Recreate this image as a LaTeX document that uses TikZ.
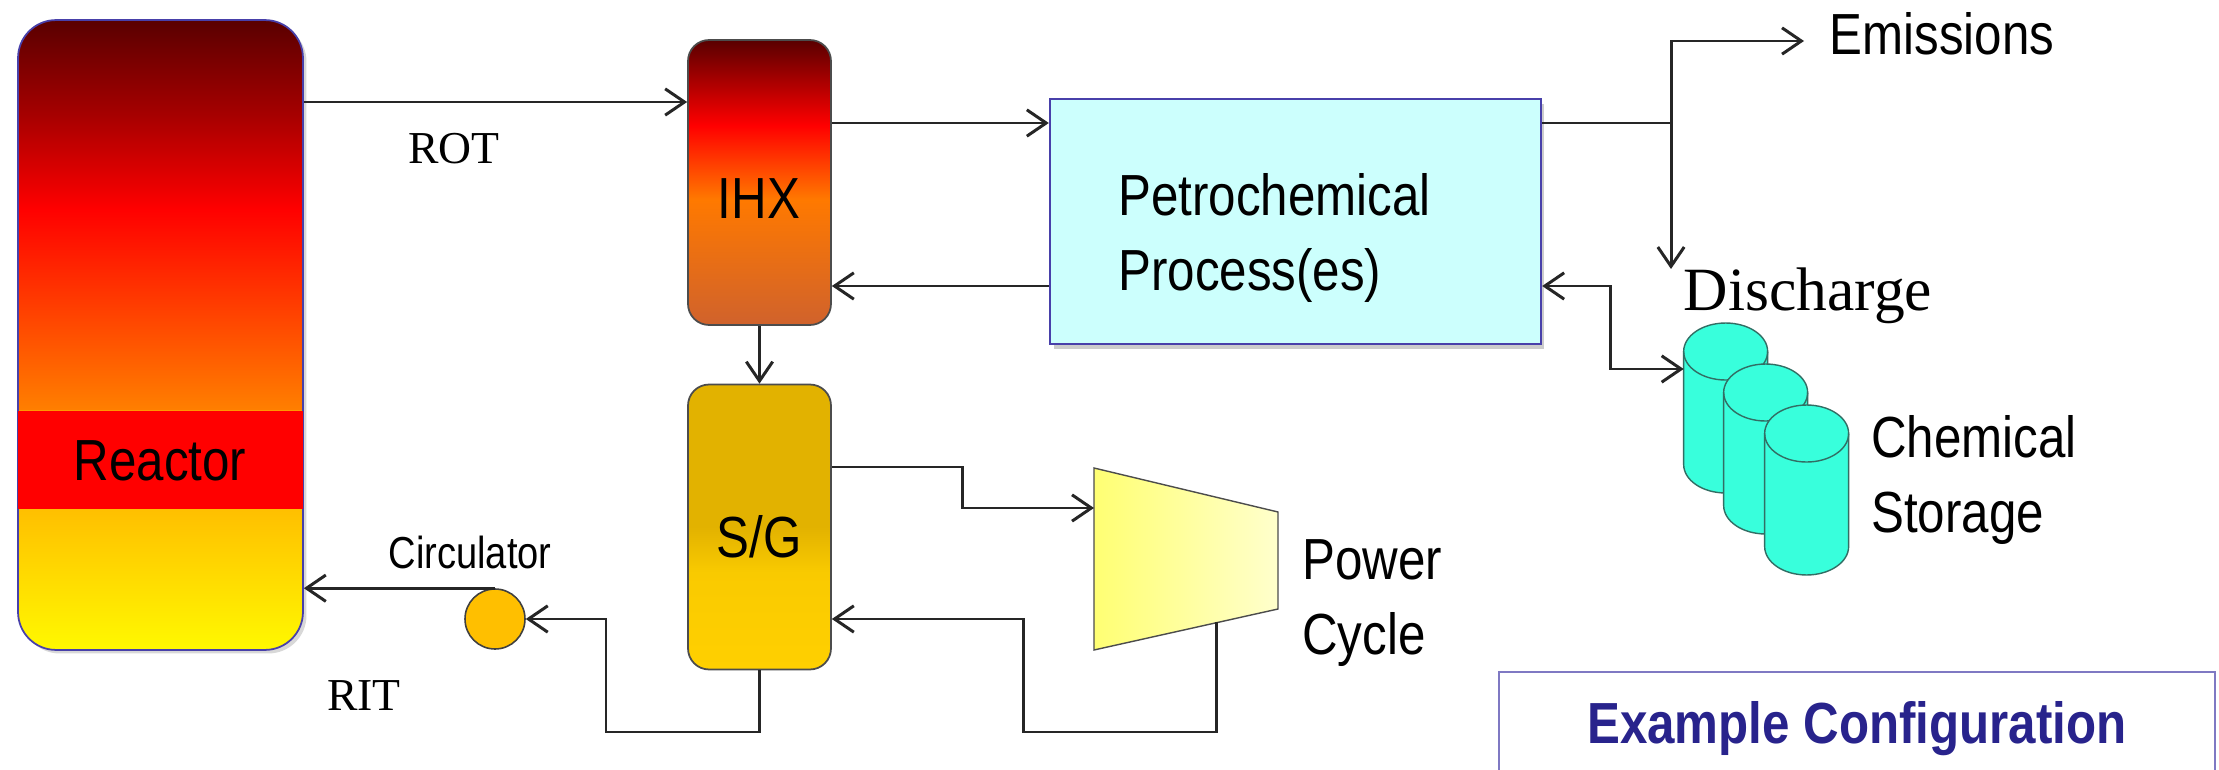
\documentclass[tikz,border=0pt]{standalone}
\usepackage{fontspec}
\setmainfont[FakeStretch = 0.85]{Liberation Sans}
\newfontfamily\labelserif{Liberation Serif}
\usetikzlibrary{arrows.meta, shadows}
\definecolor{edgeblue}{RGB}{72, 64, 170}
\definecolor{processfill}{RGB}{204, 255, 253}
\definecolor{tankfill}{RGB}{56, 255, 220}
\definecolor{tankedge}{RGB}{50, 110, 100}
\definecolor{titleblue}{RGB}{40, 35, 140}
\definecolor{ihxbottom}{RGB}{208, 98, 44}
\pgfdeclareverticalshading{reactorheat}{100bp}{
    color(0bp)=(yellow!95!orange);
    color(25bp)=(yellow!95!orange);
    color(36.2bp)=(orange!50!yellow);
    color(44bp)=(orange!50!yellow);
    color(44.01bp)=(orange);
    color(60bp)=(red);
    color(67.5bp)=(red!65!black);
    color(75bp)=(red!35!black);
    color(100bp)=(red!35!black)
}
\pgfdeclareverticalshading{ihxheat}{100bp}{
    color(0bp)=(ihxbottom);
    color(25bp)=(ihxbottom);
    color(47bp)=(orange!95!red);
    color(60bp)=(red);
    color(75bp)=(red!35!black);
    color(100bp)=(red!35!black)
}
\definecolor{sgtop}{RGB}{226, 178, 0}
\definecolor{sgbottom}{RGB}{255, 208, 0}
\pgfdeclareverticalshading{sgheat}{100bp}{
    color(0bp)=(sgbottom);
    color(25bp)=(sgbottom);
    color(42bp)=(sgtop!20!sgbottom);
    color(50bp)=(sgtop);
    color(75bp)=(sgtop);
    color(100bp)=(sgtop)
}
\newcommand{\tankoutline}[1]{
    \draw[tankline, fill = tankfill]
        ([yshift = 1.13cm]#1.west)
        arc[start angle = 180, end angle = 0, x radius = 0.84cm, y radius = 0.57cm]
        -- ++(0, -2.26cm)
        arc[start angle = 0, end angle = -180, x radius = 0.84cm, y radius = 0.57cm]
        -- cycle;
    \draw[tankline]
        ([yshift = 1.13cm]#1.west)
        arc[start angle = 180, end angle = 360, x radius = 0.84cm, y radius = 0.57cm];
}
\begin{document}
\begin{tikzpicture}[x = 0.02cm, y = -0.02cm,
        flow/.style = {draw = black!85, line width = 1.7pt, >={Straight Barb[length = 11pt, width = 15pt]}},
        bigtext/.style = {font = \fontsize{33}{42.7}\selectfont, align = left, inner sep = 0},
        smalltext/.style = {font = \fontsize{25.5}{30}\selectfont, inner sep = 0},
        serifbig/.style = {font = \fontsize{26}{30}\selectfont\labelserif, inner sep = 0},
        vessel/.style = {rounded corners = 0.76cm, minimum width = 5.7cm, minimum height = 12.6cm, inner sep = 0,
            draw = edgeblue, line width = 1pt, drop shadow = {opacity = 0.3, shadow xshift = 2pt, shadow yshift = -2pt}},
        exchanger/.style = {rounded corners = 0.42cm, minimum width = 2.86cm, minimum height = 5.7cm, inner sep = 0,
            draw = black!70, line width = 1pt},
        tank/.style = {minimum width = 1.68cm, minimum height = 3.4cm, inner sep = 0},
        tankline/.style = {draw = tankedge, line width = 0.8pt}]
    \useasboundingbox (0, 0) rectangle (2219, 770);
    \fill[white] (0, 0) rectangle (2219, 770);
    \node (reactor) at (160.5, 335) [vessel, shading = reactorheat] {};
    \node (band) at (160.5, 460) [fill = red, minimum width = 5.7cm, minimum height = 1.98cm, inner sep = 0] {};
    \node (reactorlabel) at (160, 461) [bigtext] {Reactor};
    \node (ihx) at (759.5, 182.5) [exchanger, shading = ihxheat] {};
    \node (ihxlabel) at (759, 199) [bigtext] {IHX};
    \node (sg) at (759.5, 527) [exchanger, shading = sgheat] {};
    \node (sglabel) at (759, 537) [bigtext] {S/G};
    \node (process) at (1295.5, 221.5) [draw = edgeblue, line width = 1.4pt, fill = processfill, minimum width = 9.82cm, minimum height = 4.9cm, inner sep = 0,
        drop shadow = {opacity = 0.4, shadow xshift = 2pt, shadow yshift = -3pt}] {};
    \node (processlabel) at (1118, 238) [bigtext, anchor = west] {Petrochemical \\ Process(es)};
    \draw[black!70, line width = 0.8pt, left color = yellow!55, right color = yellow!20]
        (1094, 468) coordinate (turbinetop)
        -- (1278, 512)
        -- (1278, 609)
        -- (1094, 650) coordinate (turbinebottom)
        -- cycle;
    \coordinate (turbinein) at (1094, 508);
    \coordinate (turbineout) at (1216, 622);
    \node (powerlabel) at (1302, 603) [bigtext, anchor = west] {Power \\ Cycle};
    \node (circulator) at (495, 619) [circle, draw = black!75, line width = 0.9pt, fill = orange!50!yellow, minimum size = 1.2cm, inner sep = 0] {};
    \node (circulatorlabel) at (470, 552) [smalltext] {Circulator};
    \node (rot) at (454, 149) [serifbig] {ROT};
    \node (rit) at (364, 696) [serifbig] {RIT};
    \node (tankone) at (1726, 408) [tank] {};
    \node (tanktwo) at (1766, 449) [tank] {};
    \node (tankthree) at (1807, 490) [tank] {};
    \tankoutline{tankone}
    \tankoutline{tanktwo}
    \tankoutline{tankthree}
    \node (dischargelabel) at (1808, 296) [font = \fontsize{35}{40}\selectfont\labelserif, inner sep = 0] {Discharge};
    \node (storagelabel) at (1871, 480) [bigtext, anchor = west] {Chemical \\ Storage};
    \node (emissions) at (1942, 34) [bigtext] {Emissions};
    \node (configbox) at (1857, 729) [draw = edgeblue!70, line width = 1pt, minimum width = 14.32cm, minimum height = 2.28cm, inner sep = 0,
        font = \fontsize{33}{40}\selectfont\bfseries, text = titleblue] {Example Configuration};
    \coordinate (split) at (1671, 123);
    \coordinate (emissionsin) at (1804, 41);
    \coordinate (dischargein) at (1671, 269);
    \draw[flow, ->] (reactor.east |- 0, 102) -- (ihx.west |- 0, 102);
    \draw[flow, ->] (ihx.east |- 0, 123) -- (process.west |- 0, 123);
    \draw[flow, ->] (process.west |- 0, 286) -- (ihx.east |- 0, 286);
    \draw[flow, ->] (ihx.south) -- (sg.north);
    \draw[flow, ->] (sg.east |- 0, 467) -- (962, 467) -- (962, 508) -- (turbinein);
    \draw[flow, ->] (turbineout) -- (1216, 732) -- (1023, 732) -- (1023, 619) -- (sg.east |- 0, 619);
    \draw[flow, ->] (sg.south) -- (759.5, 732) -- (606, 732) -- (606, 619) -- (circulator.east);
    \draw[flow, ->] (circulator.north) -- (reactor.east |- circulator.north);
    \draw[flow] (process.east |- split) -- (split);
    \draw[flow, ->] (split) |- (emissionsin);
    \draw[flow, ->] (split) -- (dischargein);
    \draw[flow, <->] (process.east |- 0, 286) -- (1610, 286) -- (1610, 369) -- (tankone.west |- 0, 369);
\end{tikzpicture}
\end{document}
